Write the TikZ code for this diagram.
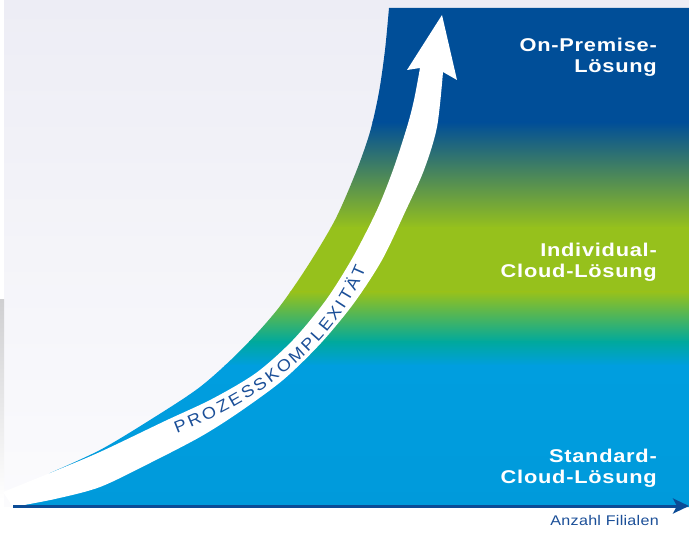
\documentclass[tikz,border=0pt]{standalone}
\usepackage{fontspec}
\newfontfamily\lblfont{Liberation Sans}[FakeStretch=1.18, LetterSpace=4]
\newfontfamily\axfont{Liberation Sans}[FakeStretch=1.15, LetterSpace=2]
\newfontfamily\protxtfont{Liberation Sans}[FakeStretch=1.1]
\newcommand\protxt{\protxtfont\fontsize{16.5}{18}\selectfont}
\usetikzlibrary{arrows.meta}
\definecolor{lav}{HTML}{EDEDF5}
\definecolor{bgbot}{HTML}{FBFBFD}
\definecolor{graystrip}{HTML}{CFCFD1}
\definecolor{dkb}{HTML}{004E98}
\definecolor{grn}{HTML}{96C11C}
\definecolor{tealc}{HTML}{00A99D}
\definecolor{ltb}{HTML}{009EDF}
\definecolor{ltbb}{HTML}{009ADB}
\definecolor{txtb}{HTML}{1B4F98}
\definecolor{axb}{HTML}{0C4C96}
\begin{document}
\begin{tikzpicture}[x=1pt,y=-1pt,
  lbl/.style={font=\lblfont\bfseries\fontsize{18.5}{21}\selectfont, text=white, anchor=base east, inner sep=0pt},
  axlbl/.style={font=\axfont\fontsize{14}{16}\selectfont, text=txtb, anchor=base east, inner sep=0pt},
  letter/.style={font=\protxt, text=txtb, sloped, anchor=base, inner sep=0pt},
  axisline/.style={draw=axb, line width=3pt, -{Stealth[length=16pt,width=15pt,inset=4pt]}}]
\useasboundingbox (0,0) rectangle (689,540);
\fill[white] (0,0) rectangle (689,540);
% background panel
\shade[top color=lav, bottom color=bgbot] (4,0) rectangle (689,506);
\shade[top color=graystrip, bottom color=white] (0,300) rectangle (4,500);
% coloured region
\begin{scope}
\clip (13,507) -- plot[smooth] coordinates {(50,473) (100,450) (150,420) (200,387) (241,350) (277,310) (307,267) (335,220) (356,172) (370,132) (379,92) (385,50) (389,8)} -- (689,8) -- (689,507) -- cycle;
\fill[dkb] (0,0) rectangle (689,123);
\shade[top color=dkb, bottom color=grn] (0,122) rectangle (689,228);
\fill[grn] (0,227) rectangle (689,293);
\shade[top color=grn, bottom color=tealc] (0,292) rectangle (689,342);
\shade[top color=tealc, bottom color=ltb] (0,341.5) rectangle (689,366);
\shade[top color=ltb, bottom color=ltbb] (0,365.5) rectangle (689,510);
\end{scope}
% white arrow
\fill[white] plot[smooth] coordinates {(3,492) (50,473) (100,452) (165,421) (212,399) (256,373) (293,340) (326,300) (353,257) (377,210) (393,170) (407,127) (414,100) (420,68)}
  -- (407,70) -- (442,15) -- (457,80)
  -- plot[smooth] coordinates {(443,72) (437,127) (424,170) (406,210) (382,260) (354,303) (321,343) (283,380) (238,413) (200,437) (150,463) (100,487) (55,499) (13,507)} -- cycle;
% text along arrow
\path (177,433) .. controls (258,402) and (333,348) .. (366,268)
  node[letter, pos=0.0225] (t1) {P}
  node[letter, pos=0.0814] (t2) {R}
  node[letter, pos=0.1440] (t3) {O}
  node[letter, pos=0.2030] (t4) {Z}
  node[letter, pos=0.2581] (t5) {E}
  node[letter, pos=0.3152] (t6) {S}
  node[letter, pos=0.3723] (t7) {S}
  node[letter, pos=0.4293] (t8) {K}
  node[letter, pos=0.4901] (t9) {O}
  node[letter, pos=0.5565] (t10) {M}
  node[letter, pos=0.6192] (t11) {P}
  node[letter, pos=0.6725] (t12) {L}
  node[letter, pos=0.7258] (t13) {E}
  node[letter, pos=0.7829] (t14) {X}
  node[letter, pos=0.8268] (t15) {I}
  node[letter, pos=0.8689] (t16) {T}
  node[letter, pos=0.9241] (t17) {Ä}
  node[letter, pos=0.9793] (t18) {T};
% axis
\coordinate (o) at (13,506);
\coordinate (xe) at (689,506);
\draw[axisline] (o) -- (xe);
% labels
\node[lbl] (on1) at (657,52) {On-Premise-};
\node[lbl] (on2) at (657,73) {Lösung};
\node[lbl] (in1) at (657,257) {Individual-};
\node[lbl] (in2) at (657,278) {Cloud-Lösung};
\node[lbl] (st1) at (657,462) {Standard-};
\node[lbl] (st2) at (657,483) {Cloud-Lösung};
\node[axlbl] (ax) at (659,525) {Anzahl Filialen};
\end{tikzpicture}
\end{document}
